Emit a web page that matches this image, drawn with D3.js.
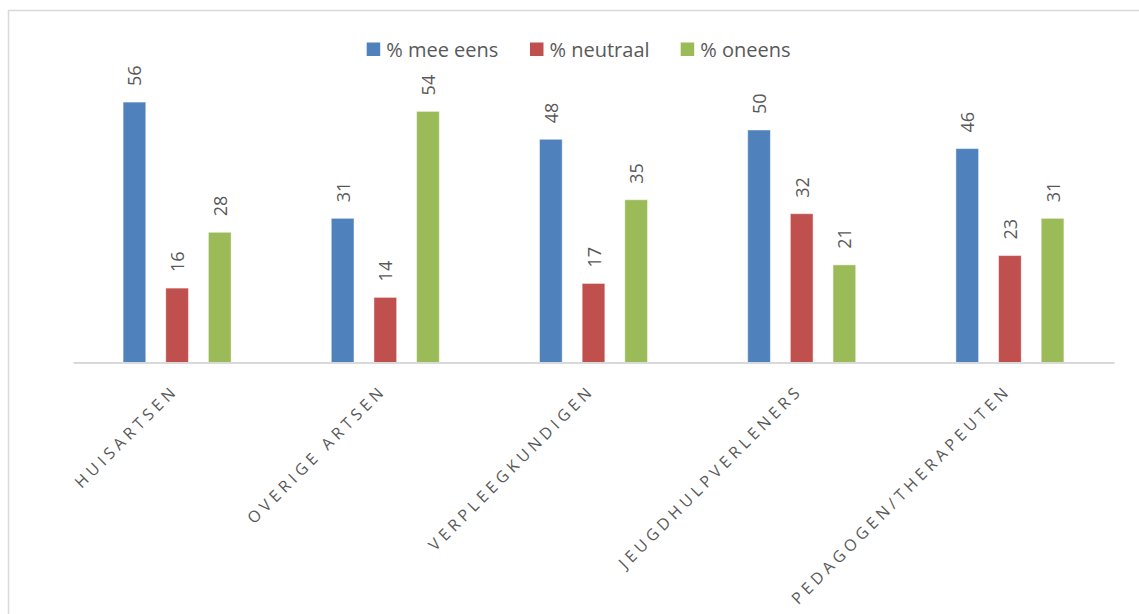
<!DOCTYPE html>
<html>
<head>
<meta charset="utf-8">
<script src="https://cdn.jsdelivr.net/npm/d3@7"></script>
<style>
  html, body { margin: 0; padding: 0; background: #fff; }
  svg { display: block; }
</style>
</head>
<body>
<svg id="chart" width="1139" height="614"></svg>
<script>
const categories = ["HUISARTSEN", "OVERIGE ARTSEN", "VERPLEEGKUNDIGEN", "JEUGDHULPVERLENERS", "PEDAGOGEN/THERAPEUTEN"];
const seriesNames = ["% mee eens", "% neutraal", "% oneens"];
const meeEens = [56, 31, 48, 50, 46];
const neutraal = [16, 14, 17, 32, 23];
const oneens = [28, 54, 35, 21, 31];
const seriesValues = [meeEens, neutraal, oneens];
const colors = ["#4f81bd", "#c0504d", "#9bbb59"];

const svg = d3.select("#chart");
const W = 1139, H = 614;
const left = 73, right = 1114, baseY = 362.5;

// outer frame
svg.append("rect")
  .attr("x", 8.5).attr("y", 10.5)
  .attr("width", W + 20).attr("height", H + 20)
  .attr("fill", "none").attr("stroke", "#d9d9d9").attr("stroke-width", 1.5);

const x0 = d3.scaleBand().domain(categories).range([left, right]).paddingInner(0).paddingOuter(0);
const x1 = d3.scaleBand().domain(seriesNames).range([0, 108]).paddingInner(20 / 42.7).paddingOuter(0);
const y = d3.scaleLinear().domain([0, 60]).range([baseY, baseY - 60 * 4.65]);

const data = [];
categories.forEach((c, i) => {
  seriesNames.forEach((s, j) => {
    data.push({ cat: c, ser: s, v: seriesValues[j][i], color: colors[j] });
  });
});

const groupOffset = (x0.bandwidth() - 108) / 2;

const g = svg.append("g");
g.selectAll("rect.bar").data(data).join("rect")
  .attr("class", "bar")
  .attr("x", d => x0(d.cat) + groupOffset + x1(d.ser))
  .attr("y", d => y(d.v))
  .attr("width", x1.bandwidth())
  .attr("height", d => baseY - y(d.v))
  .attr("fill", d => d.color)
  .attr("stroke", "rgba(255,255,255,0.45)")
  .attr("stroke-width", 1);

// value labels
g.selectAll("text.val").data(data).join("text")
  .attr("class", "val")
  .attr("transform", d => {
    const cx = x0(d.cat) + groupOffset + x1(d.ser) + x1.bandwidth() / 2;
    return `translate(${cx},${y(d.v) - 16}) rotate(-90)`;
  })
  .attr("text-anchor", "start")
  .attr("dominant-baseline", "central")
  .attr("font-family", "'Open Sans', sans-serif")
  .attr("font-size", 18)
  .attr("fill", "#595959")
  .text(d => d.v);

// x axis line
const axis = d3.axisBottom(x0).tickSize(0).tickFormat("");
const ax = svg.append("g").attr("transform", `translate(0,${baseY})`).call(axis);
ax.select(".domain").attr("stroke", "#d9d9d9").attr("stroke-width", 2);

// category labels
svg.selectAll("text.cat").data(categories).join("text")
  .attr("class", "cat")
  .attr("transform", d => `translate(${x0(d) + x0.bandwidth() / 2},${baseY + 31}) rotate(-45)`)
  .attr("text-anchor", "end")
  .attr("dx", 3)
  .attr("font-family", "'Open Sans', sans-serif")
  .attr("font-size", 16)
  .attr("letter-spacing", 4.3)
  .attr("fill", "#595959")
  .text(d => d);

// legend
const legendX = [366.7, 530, 680.7];
const lg = svg.append("g");
seriesNames.forEach((s, j) => {
  lg.append("rect").attr("x", legendX[j]).attr("y", 42.5).attr("width", 13.5).attr("height", 13.5).attr("fill", colors[j]);
  lg.append("text").attr("x", legendX[j] + 19.5).attr("y", 49.5)
    .attr("dominant-baseline", "central")
    .attr("font-family", "'Open Sans', sans-serif")
    .attr("font-size", 20)
    .attr("fill", "#595959")
    .text(s);
});
</script>
</body>
</html>
